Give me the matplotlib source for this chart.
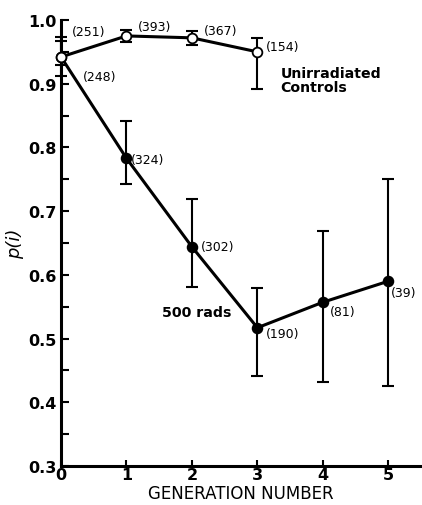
import matplotlib.pyplot as plt
import numpy as np

# generation numbers
generations = [0, 1, 2, 3, 4, 5]

# unirradiated controls
ctrl_x = [0, 1, 2, 3]
ctrl_p = [0.942, 0.975, 0.972, 0.950]
ctrl_lo = [0.930, 0.965, 0.960, 0.892]
ctrl_hi = [0.967, 0.985, 0.982, 0.972]
ctrl_n = ["(251)", "(393)", "(367)", "(154)"]

# 500 rads
rad_x = [0, 1, 2, 3, 4, 5]
rad_p = [0.942, 0.783, 0.644, 0.517, 0.557, 0.590]
rad_lo = [0.912, 0.743, 0.581, 0.441, 0.432, 0.426]
rad_hi = [0.973, 0.842, 0.719, 0.579, 0.669, 0.751]
rad_n = ["(248)", "(324)", "(302)", "(190)", "(81)", "(39)"]

fig = plt.figure(figsize=(4.22, 5.06), dpi=100)
ax = fig.add_axes([0.1446, 0.0771, 0.853, 0.8814])

def draw_series(x, p, lo, hi, face):
  p = np.array(p)
  yerr = [p - np.array(lo), np.array(hi) - p]
  eb = ax.errorbar(x, p, yerr=yerr, fmt='none', ecolor='k', elinewidth=1.5, capsize=4.3, capthick=1.5, zorder=2)
  for art in eb.lines[1] + eb.lines[2]:
    art.set_clip_on(False)
  ax.plot(x, p, '-', color='k', lw=2.2, zorder=3, clip_on=False)
  ax.plot(x, p, 'o', mfc=face, mec='k', mew=1.3, ms=7, zorder=4, clip_on=False)

draw_series(rad_x, rad_p, rad_lo, rad_hi, 'k')
draw_series(ctrl_x, ctrl_p, ctrl_lo, ctrl_hi, 'white')

# sample size labels (offsets in points)
ctrl_off = [(8, 18), (8, 7), (8.6, 5), (6, 4)]
rad_off = [(16, -14), (3, -1), (6.5, 0), (6, -4), (5, -6.5), (2, -8)]
for x, p, n, off in zip(ctrl_x, ctrl_p, ctrl_n, ctrl_off):
  ax.annotate(n, (x, p), xytext=off, textcoords='offset points', ha='left', va='center', fontsize=9)
for x, p, n, off in zip(rad_x, rad_p, rad_n, rad_off):
  ax.annotate(n, (x, p), xytext=off, textcoords='offset points', ha='left', va='center', fontsize=9)

ax.text(3.35, 0.906, "Unirradiated\nControls", ha='left', va='center', fontsize=10.2, fontweight='bold', linespacing=1.0)
ax.text(2.08, 0.542, "500 rads", ha='center', va='center', fontsize=10.2, fontweight='bold')

ax.set_xlim(0, 5.5)
ax.set_ylim(0.3, 1.0)
ax.set_xticks(generations)
ax.set_yticks(np.arange(0.3, 1.01, 0.1))
ax.set_yticklabels(["0.3", "0.4", "0.5", "0.6", "0.7", "0.8", "0.9", "1.0"])
ax.set_yticks(np.arange(0.35, 1.0, 0.1), minor=True)
ax.tick_params(axis='both', which='both', direction='in', width=1.5, labelsize=11.5)
ax.tick_params(axis='y', which='both', length=6, pad=3)
ax.tick_params(axis='x', which='major', length=4, pad=1)
for lab in ax.get_xticklabels() + ax.get_yticklabels():
  lab.set_fontweight('bold')

for s in ['top', 'right']:
  ax.spines[s].set_visible(False)
for s in ['left', 'bottom']:
  ax.spines[s].set_linewidth(2.2)

ax.set_xlabel("GENERATION NUMBER", fontsize=12, labelpad=1)
ax.set_ylabel("p(i)", fontsize=13, fontstyle='italic', labelpad=3)

plt.savefig("out.png", dpi=100)
